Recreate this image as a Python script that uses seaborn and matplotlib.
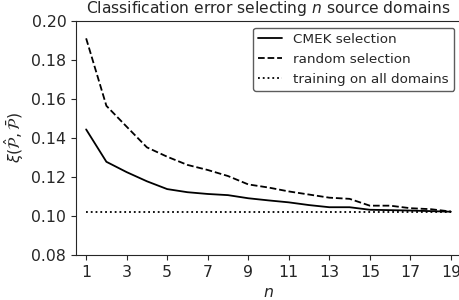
import numpy as np
import pandas as pd
import matplotlib
matplotlib.use("Agg")
import matplotlib.pyplot as plt
import seaborn as sns

n_sources = list(range(1, 20))
cmek_error = [0.1444, 0.1278, 0.1225, 0.1178, 0.1138, 0.1122, 0.1113, 0.1107,
              0.1091, 0.1080, 0.1070, 0.1056, 0.1045, 0.1045, 0.1032, 0.1030,
              0.1028, 0.1025, 0.1022]
random_error = [0.1911, 0.1565, 0.1458, 0.1352, 0.1304, 0.1262, 0.1236, 0.1205,
                0.1162, 0.1146, 0.1126, 0.1110, 0.1094, 0.1088, 0.1053, 0.1053,
                0.1040, 0.1035, 0.1023]
all_domains_error = 0.1022

df = pd.DataFrame({"n": n_sources, "CMEK selection": cmek_error,
                   "random selection": random_error,
                   "training on all domains": [all_domains_error] * len(n_sources)})

sns.set_style("ticks")
plt.rcParams["font.family"] = ["DejaVu Sans"]

fig = plt.figure(figsize=(4.59, 3.0), dpi=100)
ax = fig.add_axes([76 / 459, 45 / 300, 385 / 459, 234 / 300])

sns.lineplot(data=df, x="n", y="CMEK selection", color="black", lw=1.3,
             linestyle="-", label="CMEK selection", ax=ax)
sns.lineplot(data=df, x="n", y="random selection", color="black", lw=1.3,
             linestyle="--", label="random selection", ax=ax)
sns.lineplot(data=df, x="n", y="training on all domains", color="black", lw=1.3,
             linestyle=":", label="training on all domains", ax=ax)

ax.set_xlim(0.5, 19.5)
ax.set_ylim(0.08, 0.20)
ax.set_xticks(range(1, 20, 2))
ax.set_yticks(np.arange(0.08, 0.201, 0.02))
ax.tick_params(labelsize=11.3)
ax.set_xlabel("$n$", fontsize=11.3)
ax.set_ylabel(r"$\xi(\hat{\mathcal{P}},\bar{\mathcal{P}})$", fontsize=11.3)
ax.set_title("Classification error selecting $n$ source domains", fontsize=11.2)
ax.legend(loc="upper right", fontsize=9.7, frameon=True, edgecolor="#333333",
          handlelength=1.8)

fig.savefig("out.png", dpi=100)
